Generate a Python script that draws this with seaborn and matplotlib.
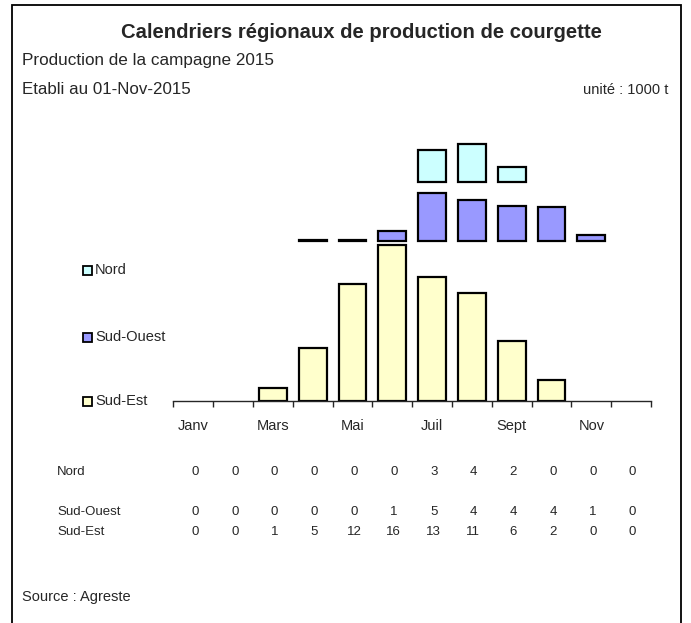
import matplotlib
matplotlib.use('Agg')
import matplotlib.pyplot as plt
import seaborn as sns
import numpy as np
from matplotlib.patches import Rectangle

# donnees (1000 t)
mois = ['Janv', 'Févr', 'Mars', 'Avr', 'Mai', 'Juin', 'Juil', 'Août', 'Sept', 'Oct', 'Nov', 'Déc']
mois_affiches = ['Janv', '', 'Mars', '', 'Mai', '', 'Juil', '', 'Sept', '', 'Nov', '']
regions = ['Nord', 'Sud-Ouest', 'Sud-Est']
nord = [0, 0, 0, 0, 0, 0, 3.3, 4.0, 1.6, 0, 0, 0]
sud_ouest = [0, 0, 0, 0.1, 0.1, 1.0, 4.95, 4.2, 3.6, 3.5, 0.55, 0]
sud_est = [0, 0, 1.25, 5.45, 12.05, 16.0, 12.75, 11.1, 6.1, 2.1, 0, 0]
couleurs = {'Nord': '#ccffff', 'Sud-Ouest': '#9999ff', 'Sud-Est': '#ffffcc'}
bases = {'Nord': 22.5, 'Sud-Ouest': 16.5, 'Sud-Est': 0}
series = {'Nord': nord, 'Sud-Ouest': sud_ouest, 'Sud-Est': sud_est}

sns.set_style('white')
plt.rcParams['font.family'] = ['Liberation Sans', 'DejaVu Sans']

W, H = 691, 623
fig = plt.figure(figsize=(W / 100, H / 100), dpi=100)

def fx(x):
    return x / W

def fy(y):
    return 1 - y / H

# cadre
fig.patches.append(Rectangle((fx(12), fy(700)), fx(681) - fx(12), fy(5) - fy(700),
                             transform=fig.transFigure, fill=False, edgecolor='black',
                             linewidth=1.3))

ax = fig.add_axes([fx(173.5), fy(400.5), fx(651) - fx(173.5), fy(130) - fy(400.5)])
for r in regions:
    vals = np.array(series[r], dtype=float)
    vals[vals == 0] = np.nan
    sns.barplot(x=mois, y=vals, order=mois, bottom=bases[r], color=couleurs[r],
                saturation=1, edgecolor='black', linewidth=1.6, width=0.7, ax=ax)

ax.set_xlim(-0.5, 11.5)
ax.set_ylim(0, 27.9)
for s in ['top', 'right', 'left']:
    ax.spines[s].set_visible(False)
ax.spines['bottom'].set_linewidth(1.0)
ax.set_yticks([])
ax.set_xticks(np.arange(-0.5, 12, 1))
ax.set_xticklabels([])
ax.tick_params(axis='x', which='major', direction='out', length=4, width=1, bottom=True)
ax.set_xticks(np.arange(12), minor=True)
ax.set_xticklabels(mois_affiches, minor=True, fontsize=10.5)
ax.tick_params(axis='x', which='minor', length=0, pad=13)
ax.set_xlabel('')
ax.set_ylabel('')

# titres
fig.text(fx(361), fy(33), 'Calendriers régionaux de production de courgette',
         ha='center', va='center', fontsize=14.6, fontweight='bold')
fig.text(fx(22), fy(61), 'Production de la campagne 2015', ha='left', va='center', fontsize=12.3)
fig.text(fx(22), fy(90), 'Etabli au 01-Nov-2015', ha='left', va='center', fontsize=12.2)
fig.text(fx(668), fy(90), 'unité : 1000 t', ha='right', va='center', fontsize=10.5)

# legende
leg_y = {'Nord': 270, 'Sud-Ouest': 337, 'Sud-Est': 401}
for r in regions:
    fig.patches.append(Rectangle((fx(83), fy(leg_y[r] + 4.5)), fx(9), 9 / H,
                                 transform=fig.transFigure, facecolor=couleurs[r],
                                 edgecolor='black', linewidth=1.3))
    fig.text(fx(95), fy(leg_y[r]), r, ha='left', va='center', fontsize=10.5)

# tableau des valeurs
row_y = {'Nord': 472, 'Sud-Ouest': 512, 'Sud-Est': 532}
for r in regions:
    fig.text(fx(57), fy(row_y[r]), r, ha='left', va='center', fontsize=9.5)
    for i, v in enumerate(series[r]):
        xc = 173.5 + (i + 0.5) * (651 - 173.5) / 12 + 1.5
        fig.text(fx(xc), fy(row_y[r]), str(int(round(v))), ha='center', va='center', fontsize=9.5)

fig.text(fx(22), fy(597), 'Source : Agreste', ha='left', va='center', fontsize=10.5)

fig.savefig('out.png', dpi=100)
